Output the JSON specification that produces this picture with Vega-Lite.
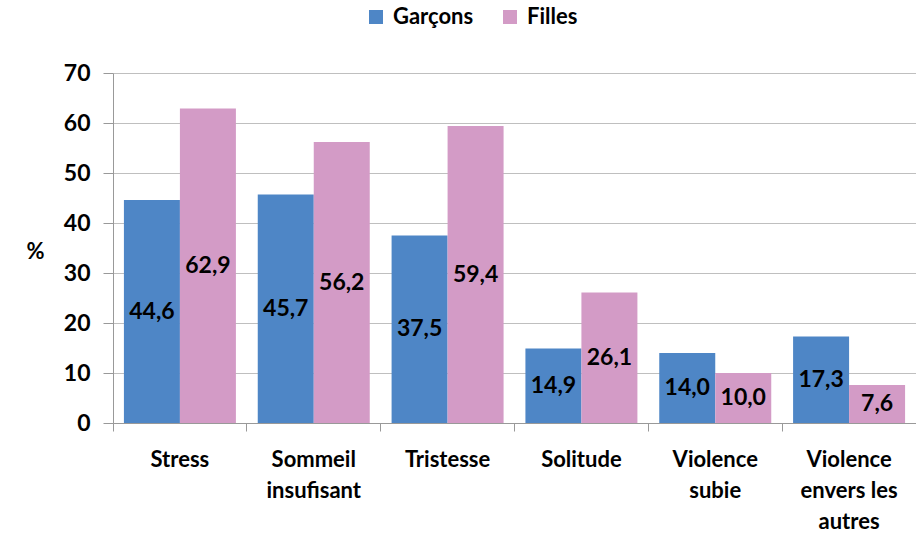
{
  "$schema": "https://vega.github.io/schema/vega-lite/v6.json",
  "width": 803,
  "height": 350,
  "autosize": {"type": "none"},
  "padding": {"left": 113, "top": 73, "right": 0, "bottom": 114},
  "background": "white",
  "config": {
    "locale": {"number": {"decimal": ",", "thousands": " ", "grouping": [3], "currency": ["", " €"]}},
    "font": "Lato",
    "view": {"stroke": null},
    "axis": {"labelFont": "Lato", "labelFontWeight": "bold", "labelColor": "black", "titleFont": "Lato", "titleFontWeight": "bold", "titleColor": "black"}
  },
  "data": {
    "values": [
      {"cat": "Stress", "sexe": "Garçons", "value": 44.6},
      {"cat": "Stress", "sexe": "Filles", "value": 62.9},
      {"cat": "Sommeil insufisant", "sexe": "Garçons", "value": 45.7},
      {"cat": "Sommeil insufisant", "sexe": "Filles", "value": 56.2},
      {"cat": "Tristesse", "sexe": "Garçons", "value": 37.5},
      {"cat": "Tristesse", "sexe": "Filles", "value": 59.4},
      {"cat": "Solitude", "sexe": "Garçons", "value": 14.9},
      {"cat": "Solitude", "sexe": "Filles", "value": 26.1},
      {"cat": "Violence subie", "sexe": "Garçons", "value": 14.0},
      {"cat": "Violence subie", "sexe": "Filles", "value": 10.0},
      {"cat": "Violence envers les autres", "sexe": "Garçons", "value": 17.3},
      {"cat": "Violence envers les autres", "sexe": "Filles", "value": 7.6}
    ]
  },
  "encoding": {
    "x": {
      "field": "cat", "type": "nominal", "sort": null,
      "scale": {"paddingInner": 0, "paddingOuter": 0},
      "axis": {
        "title": null, "labelAngle": 0, "labelFontSize": 22, "labelLineHeight": 31,
        "labelPadding": 18, "ticks": true, "tickSize": 8, "tickColor": "#999999", "domainColor": "#999999",
        "bandPosition": 0, "labelAlign": "center", "labelBaseline": "top",
        "labelExpr": "datum.value == 'Sommeil insufisant' ? ['Sommeil', 'insufisant'] : datum.value == 'Violence subie' ? ['Violence', 'subie'] : datum.value == 'Violence envers les autres' ? ['Violence', 'envers les', 'autres'] : datum.value"
      }
    },
    "xOffset": {"field": "sexe", "type": "nominal", "sort": ["Garçons", "Filles"], "scale": {"paddingInner": 0, "paddingOuter": 0.195}}
  },
  "layer": [
    {
      "mark": {"type": "bar"},
      "encoding": {
        "y": {
          "field": "value", "type": "quantitative",
          "scale": {"domain": [0, 70]},
          "axis": {
            "values": [0, 10, 20, 30, 40, 50, 60, 70],
            "title": "%", "titleAngle": 0, "titleFontSize": 22, "titleX": -78, "titleY": 178,
            "titleAlign": "center", "titleBaseline": "middle",
            "labelFontSize": 23, "labelPadding": 13, "tickSize": 10,
            "tickColor": "#999999", "domainColor": "#999999",
            "gridColor": "#BFBFBF", "grid": true
          }
        },
        "color": {
          "field": "sexe", "type": "nominal", "sort": ["Garçons", "Filles"],
          "scale": {"domain": ["Garçons", "Filles"], "range": ["#4E86C6", "#D39BC6"]},
          "legend": {
            "title": null, "orient": "none", "direction": "horizontal",
            "legendX": 252, "legendY": -67, "padding": 0,
            "symbolType": "square", "symbolSize": 196, "symbolStrokeWidth": 0,
            "labelFont": "Lato", "labelFontWeight": "bold", "labelFontSize": 22, "labelColor": "black",
            "labelOffset": 6, "columnPadding": 25
          }
        }
      }
    },
    {
      "mark": {"type": "text", "font": "Lato", "fontWeight": "bold", "fontSize": 23, "color": "black", "baseline": "middle", "align": "center"},
      "encoding": {
        "y": {"field": "value", "type": "quantitative", "scale": {"domain": [0, 140]}, "axis": null},
        "text": {"field": "value", "type": "quantitative", "format": ".1f"}
      }
    }
  ],
  "resolve": {"scale": {"y": "independent"}}
}
